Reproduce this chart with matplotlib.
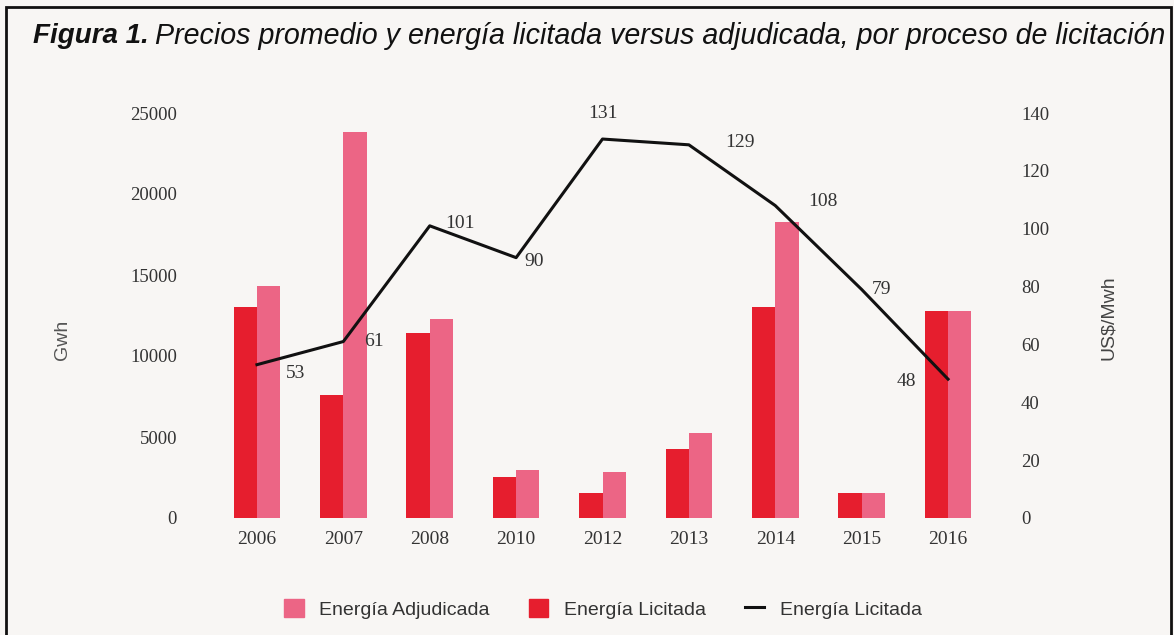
import matplotlib
matplotlib.use("Agg")
import matplotlib.pyplot as plt
import numpy as np
from matplotlib.patches import Rectangle, Patch
from matplotlib.lines import Line2D

years = ["2006", "2007", "2008", "2010", "2012", "2013", "2014", "2015", "2016"]
licitada = [13000, 7600, 11400, 2550, 1550, 4250, 13000, 1550, 12800]
adjudicada = [14300, 23800, 12300, 2950, 2850, 5250, 18300, 1550, 12800]
precios = [53, 61, 101, 90, 131, 129, 108, 79, 48]
left_ticks = [0, 5000, 10000, 15000, 20000, 25000]
right_ticks = [0, 20, 40, 60, 80, 100, 120, 140]

RED = "#E61E2E"
PINK = "#EC6585"
BG = "#F8F6F4"
sans = ["Liberation Sans", "DejaVu Sans"]
serif = ["Liberation Serif", "DejaVu Serif"]

fig = plt.figure(figsize=(11.74, 6.35), dpi=100, facecolor=BG)
W, H = 1174, 635

def fx(px):
    return px / W

def fy(py):
    return 1 - py / H

ax = fig.add_axes([fx(196.5), fy(518), fx(1008.5) - fx(196.5), fy(113) - fy(518)])
ax.set_facecolor("none")
x = np.arange(len(years))
bw = 0.27
ax.bar(x - bw / 2, licitada, width=bw, color=RED, zorder=2)
ax.bar(x + bw / 2, adjudicada, width=bw, color=PINK, zorder=2)
ax.set_xlim(-0.7, len(years) - 1 + 0.7)
ax.set_ylim(0, 25000)
ax.set_yticks(left_ticks)
ax.set_yticklabels([str(t) for t in left_ticks], family=serif, fontsize=13.5, color="#333333")
ax.set_xticks(x)
ax.set_xticklabels(years, family=serif, fontsize=14, color="#333333")
ax.tick_params(axis="both", length=0)
ax.tick_params(axis="y", pad=14)
ax.tick_params(axis="x", pad=9)
for s in ax.spines.values():
    s.set_visible(False)

ax2 = ax.twinx()
ax2.set_ylim(0, 140)
ax2.plot(x, precios, color="#111111", lw=2.2, zorder=3)
ax2.set_yticks(right_ticks)
ax2.set_yticklabels([str(t) for t in right_ticks], family=serif, fontsize=13.5, color="#333333")
ax2.tick_params(axis="y", length=0, pad=9)
for s in ax2.spines.values():
    s.set_visible(False)

offsets = [(28, -6), (22, 0), (22, 2), (13, -3), (0, 12), (37, 2), (34, 3), (14, 0), (-30, -2)]
for xi, v, (dx, dy) in zip(x, precios, offsets):
    ax2.annotate(str(v), (xi, v), xytext=(dx, dy), textcoords="offset points",
                 ha="center", va="bottom" if dy > 6 else "center",
                 family=serif, fontsize=14, color="#333333")

fig.text(fx(62), fy(340), "Gwh", rotation=90, ha="center", va="center",
         family=sans, fontsize=14, color="#555555")
fig.text(fx(1108), fy(318), "US$/Mwh", rotation=90, ha="center", va="center",
         family=sans, fontsize=14, color="#444444")

t1 = fig.text(fx(33), fy(36), "Figura 1.", ha="left", va="center",
              family=sans, fontsize=20, fontweight="bold", style="italic", color="#111111")
fig.canvas.draw()
bb = t1.get_window_extent()
t2 = fig.text(bb.x1 / W + fx(6), fy(36),
              "Precios promedio y energía licitada versus adjudicada, por proceso de licitación",
              ha="left", va="center", family=sans, fontsize=19, style="italic", color="#111111")
fig.canvas.draw()
bb2 = t2.get_window_extent()
target = 1165 - (bb.x1 + 6)
t2.set_fontsize(19 * target / bb2.width)

handles = [Patch(color=PINK), Patch(color=RED), Line2D([], [], color="#111111", lw=2.2)]
labels = ["Energía Adjudicada", "Energía Licitada", "Energía Licitada"]
fig.legend(handles, labels, loc="center", bbox_to_anchor=(fx(603), fy(609)), ncol=3,
           frameon=False, prop={"family": sans, "size": 14}, handlelength=1.0,
           handleheight=1.0, columnspacing=2.0, handletextpad=0.8, labelcolor="#333333")

fig.patches.append(Rectangle((fx(6), fy(640)), fx(1171) - fx(6), fy(7) - fy(640),
                             transform=fig.transFigure, fill=False, ec="#111111", lw=2.0))

fig.savefig("out.png", dpi=100, facecolor=BG)
